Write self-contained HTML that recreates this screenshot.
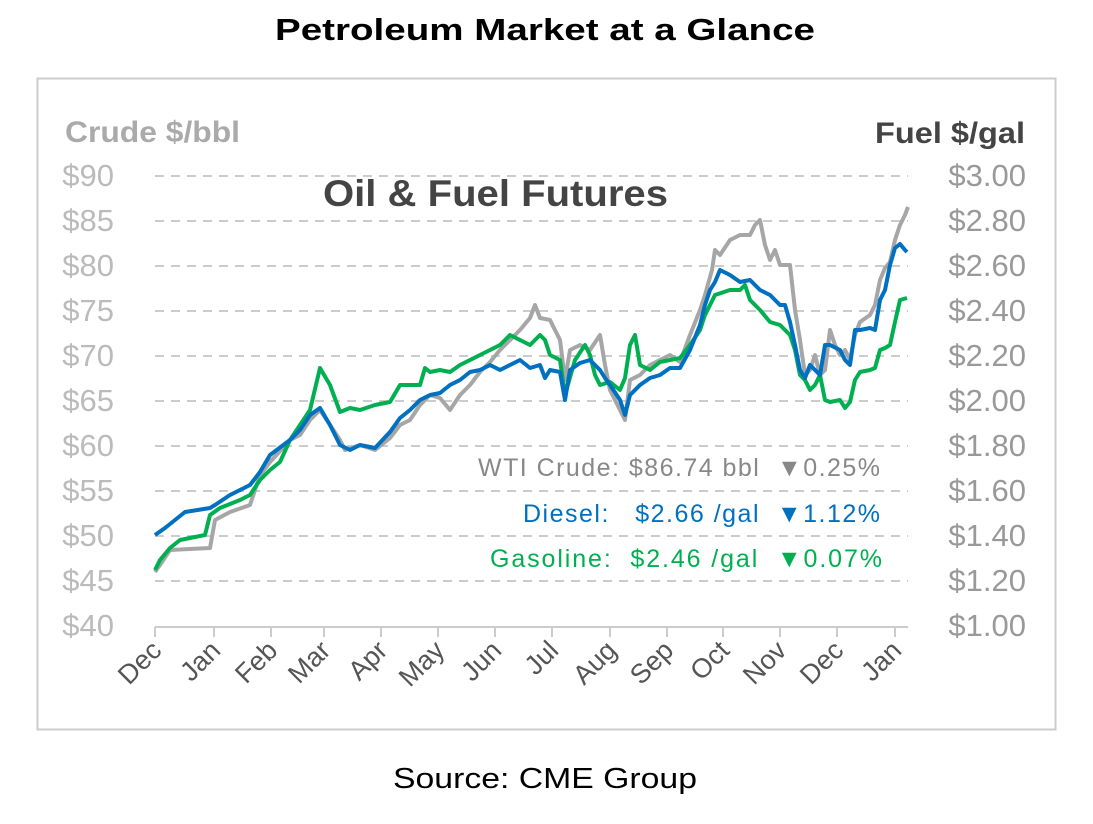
<!DOCTYPE html><html><head><style>body{margin:0;background:#fff}svg text{font-family:"Liberation Sans",sans-serif}</style></head><body>
<svg width="1093" height="819" xmlns="http://www.w3.org/2000/svg">
<text x="545" y="40" text-anchor="middle" font-size="31" font-weight="bold" fill="#000" textLength="540" lengthAdjust="spacingAndGlyphs">Petroleum Market at a Glance</text>
<rect x="37.5" y="78.5" width="1018" height="651" fill="#fff" stroke="#ccc" stroke-width="2"/>
<text x="65" y="142" font-size="30" font-weight="bold" fill="#aaa" textLength="175" lengthAdjust="spacingAndGlyphs">Crude $/bbl</text>
<text x="875" y="143" font-size="30" font-weight="bold" fill="#444" textLength="150" lengthAdjust="spacingAndGlyphs">Fuel $/gal</text>
<g stroke="#ccc" stroke-width="2" stroke-dasharray="9,7">
<line x1="155" x2="908" y1="176" y2="176"/><line x1="155" x2="908" y1="221" y2="221"/><line x1="155" x2="908" y1="266" y2="266"/><line x1="155" x2="908" y1="311" y2="311"/><line x1="155" x2="908" y1="356" y2="356"/><line x1="155" x2="908" y1="401" y2="401"/><line x1="155" x2="908" y1="446" y2="446"/><line x1="155" x2="908" y1="491" y2="491"/><line x1="155" x2="908" y1="536" y2="536"/><line x1="155" x2="908" y1="581" y2="581"/>
</g>
<g font-size="31" fill="#bbb" text-anchor="end">
<text x="114" y="186">$90</text><text x="114" y="231">$85</text><text x="114" y="276">$80</text><text x="114" y="321">$75</text><text x="114" y="366">$70</text><text x="114" y="411">$65</text><text x="114" y="456">$60</text><text x="114" y="501">$55</text><text x="114" y="546">$50</text><text x="114" y="591">$45</text><text x="114" y="636">$40</text>
</g>
<g font-size="31" fill="#999" text-anchor="end">
<text x="1026" y="186">$3.00</text><text x="1026" y="231">$2.80</text><text x="1026" y="276">$2.60</text><text x="1026" y="321">$2.40</text><text x="1026" y="366">$2.20</text><text x="1026" y="411">$2.00</text><text x="1026" y="456">$1.80</text><text x="1026" y="501">$1.60</text><text x="1026" y="546">$1.40</text><text x="1026" y="591">$1.20</text><text x="1026" y="636">$1.00</text>
</g>
<line x1="155" x2="908" y1="627" y2="627" stroke="#ccc" stroke-width="2"/>
<g stroke="#ccc" stroke-width="2">
<line x1="155" x2="155" y1="627" y2="637"/><line x1="214" x2="214" y1="627" y2="637"/><line x1="271" x2="271" y1="627" y2="637"/><line x1="324" x2="324" y1="627" y2="637"/><line x1="381" x2="381" y1="627" y2="637"/><line x1="438" x2="438" y1="627" y2="637"/><line x1="495" x2="495" y1="627" y2="637"/><line x1="552" x2="552" y1="627" y2="637"/><line x1="610" x2="610" y1="627" y2="637"/><line x1="667" x2="667" y1="627" y2="637"/><line x1="723" x2="723" y1="627" y2="637"/><line x1="780" x2="780" y1="627" y2="637"/><line x1="837" x2="837" y1="627" y2="637"/><line x1="895" x2="895" y1="627" y2="637"/>
</g>
<g font-size="27" fill="#555" text-anchor="end">
<text transform="translate(163,652) rotate(-45)">Dec</text><text transform="translate(222,652) rotate(-45)">Jan</text><text transform="translate(279,652) rotate(-45)">Feb</text><text transform="translate(332,652) rotate(-45)">Mar</text><text transform="translate(389,652) rotate(-45)">Apr</text><text transform="translate(446,652) rotate(-45)">May</text><text transform="translate(503,652) rotate(-45)">Jun</text><text transform="translate(560,652) rotate(-45)">Jul</text><text transform="translate(618,652) rotate(-45)">Aug</text><text transform="translate(675,652) rotate(-45)">Sep</text><text transform="translate(731,652) rotate(-45)">Oct</text><text transform="translate(788,652) rotate(-45)">Nov</text><text transform="translate(845,652) rotate(-45)">Dec</text><text transform="translate(903,652) rotate(-45)">Jan</text>
</g>
<text x="323" y="206" font-size="37" font-weight="bold" fill="#444" textLength="345" lengthAdjust="spacingAndGlyphs">Oil &amp; Fuel Futures</text>
<g fill="none" stroke-width="4" stroke-linejoin="round">
<polyline stroke="#a6a6a6" points="155,572 160,565 170,550 210,548 215,520 230,512 250,505 260,475 270,462 290,440 300,435 310,420 320,410 330,425 340,440 345,450 360,445 375,450 390,438 400,425 410,420 420,405 430,395 440,398 450,410 460,395 470,385 480,372 490,362 500,350 510,340 520,330 530,318 535,305 540,318 550,320 560,340 565,380 570,350 580,345 590,350 600,335 605,365 610,390 620,410 625,420 630,380 640,375 650,365 660,360 670,355 680,362 690,335 700,310 705,295 712,270 715,250 720,255 730,240 740,235 750,235 755,225 760,220 765,245 770,260 775,250 780,265 790,265 795,310 800,340 805,375 810,370 815,355 820,375 825,370 830,330 835,345 840,355 845,350 850,360 855,335 860,322 870,315 875,305 880,280 885,268 890,262 895,240 900,225 905,215 908,207"/>
<polyline stroke="#00b050" points="155,570 160,560 170,548 180,540 205,535 210,515 220,508 240,500 250,495 260,480 270,470 280,462 290,440 300,425 310,410 320,368 330,385 340,412 350,408 360,410 375,405 390,402 400,385 410,385 420,385 425,368 430,372 440,370 450,372 460,365 470,360 480,355 490,350 500,345 510,335 520,340 530,345 540,335 545,340 550,355 560,360 565,395 575,360 585,345 590,355 595,375 600,385 610,382 620,390 625,378 630,345 635,335 640,365 650,370 660,362 670,360 680,358 690,345 700,330 705,315 710,305 715,295 730,290 740,290 745,285 750,300 760,310 770,322 780,325 790,335 795,350 800,375 805,380 810,390 815,385 820,375 825,400 830,402 840,400 845,408 850,402 855,380 860,372 870,370 875,368 880,350 885,348 890,345 895,322 900,300 907,298"/>
<polyline stroke="#0070c0" points="155,535 165,528 175,520 185,512 210,508 215,505 230,495 250,485 260,472 270,455 290,440 300,430 310,415 320,408 330,425 340,445 350,450 360,445 375,448 390,432 400,418 410,410 420,400 430,395 440,393 450,385 460,380 470,372 480,370 490,365 500,370 510,365 520,360 530,368 540,365 545,378 550,370 560,372 565,400 570,370 580,363 590,360 600,370 605,378 610,385 620,400 625,415 630,395 640,385 650,378 660,375 670,368 680,368 690,350 700,325 705,305 710,290 715,282 720,270 730,275 740,282 750,280 760,290 770,295 780,305 785,305 790,322 795,345 800,370 805,378 810,365 815,370 820,375 825,345 830,345 840,350 845,360 850,365 855,330 860,330 870,328 875,330 880,300 885,290 890,265 895,248 900,244 905,250 907,252"/>
</g>
<g font-size="25">
<text x="478" y="476" fill="#888" textLength="402" lengthAdjust="spacing" xml:space="preserve">WTI Crude: $86.74 bbl  ▼0.25%</text>
<text x="523" y="522" fill="#0070c0" textLength="357" lengthAdjust="spacing" xml:space="preserve">Diesel:   $2.66 /gal  ▼1.12%</text>
<text x="490" y="567" fill="#00b050" textLength="392" lengthAdjust="spacing" xml:space="preserve">Gasoline:  $2.46 /gal  ▼0.07%</text>
</g>
<text x="393" y="788" font-size="29" fill="#000" textLength="304" lengthAdjust="spacingAndGlyphs">Source: CME Group</text>
</svg></body></html>
